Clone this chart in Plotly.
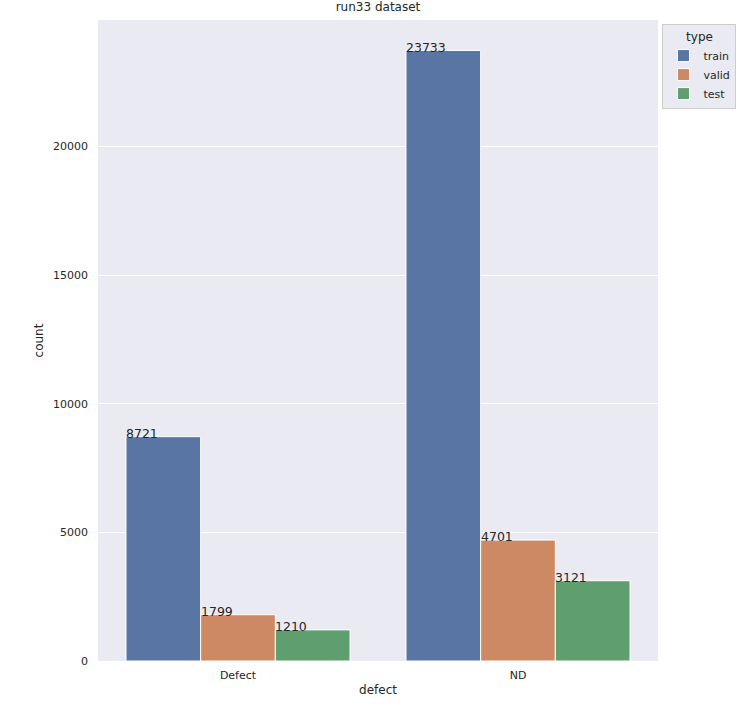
import plotly.graph_objects as go

categories = ["Defect", "ND"]
types = ["train", "valid", "test"]
train = [8721, 23733]
valid = [1799, 4701]
test = [1210, 3121]
colors = ["#5875a4", "#cc8963", "#5f9e6e"]
yticks = [0, 5000, 10000, 15000, 20000]

series = [train, valid, test]
n = len(types)
group_w = 0.8
bw = group_w / n
xs = list(range(len(categories)))

fig = go.Figure()
for i, (name, vals, col) in enumerate(zip(types, series, colors)):
    offs = -group_w / 2 + i * bw
    fig.add_trace(go.Bar(
        x=xs, y=vals, name=name, width=bw, offset=offs,
        marker=dict(color=col, line=dict(color="white", width=1)),
    ))
    for xi, v in zip(xs, vals):
        fig.add_annotation(
            x=xi + offs, y=v, text=str(v), showarrow=False,
            xanchor="left", yanchor="bottom", yshift=-6, xshift=-2,
            font=dict(size=12.5, color="#262626"),
        )

font = "DejaVu Sans, sans-serif"
fig.update_layout(
    width=749, height=714,
    margin=dict(l=98, r=91, t=20, b=53),
    paper_bgcolor="white", plot_bgcolor="#eaeaf2",
    font=dict(family=font, color="#262626", size=11),
    title=dict(text="run33 dataset", x=0.5, xref="paper", xanchor="center",
               y=1, yref="container", yanchor="top", pad=dict(t=3),
               font=dict(size=12)),
    showlegend=True,
    legend=dict(
        title=dict(text="type", side="top center", font=dict(size=12)),
        x=1.008, y=0.993, xanchor="left", yanchor="top",
        bgcolor="#eaeaf2", bordercolor="#cccccc", borderwidth=1,
        font=dict(size=11), itemwidth=30, tracegroupgap=0,
    ),
    bargap=0.2,
)
fig.update_xaxes(
    range=[-0.5, 1.5], tickvals=xs, ticktext=categories,
    showgrid=False, zeroline=False, ticks="", ticklen=0,
    ticklabelstandoff=6,
    title=dict(text="defect", font=dict(size=12), standoff=4),
    tickfont=dict(size=11),
)
fig.update_yaxes(
    range=[0, 24920], tickvals=yticks, ticktext=[str(t) for t in yticks],
    showgrid=True, gridcolor="white", gridwidth=1, zeroline=False,
    ticks="", ticklabelstandoff=9,
    title=dict(text="count", font=dict(size=12), standoff=6),
    tickfont=dict(size=11),
)
fig.write_html("out.html")
